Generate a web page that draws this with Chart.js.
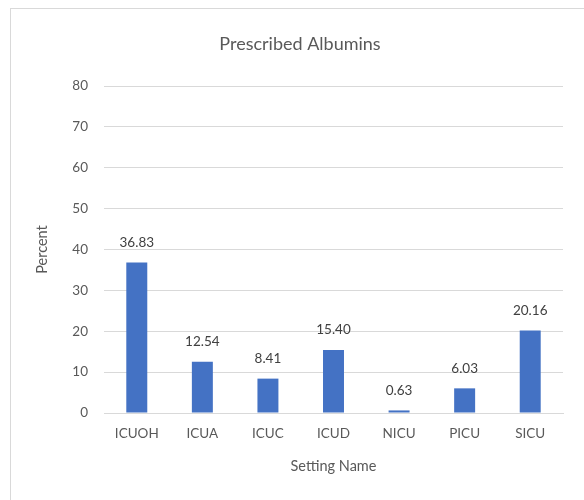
<!DOCTYPE html>
<html><head><meta charset="utf-8">
<script src="https://cdn.jsdelivr.net/npm/chart.js@4.4.1/dist/chart.umd.min.js"></script>
<style>
html,body{margin:0;padding:0;background:#fff;overflow:hidden;width:584px;height:500px;}
#frame{position:absolute;left:10px;top:8px;width:700px;height:700px;border:1px solid #d9d9d9;box-sizing:border-box;}
#wrap{position:absolute;left:0;top:0;width:584px;height:500px;}
</style></head>
<body>
<div id="frame"></div>
<div id="wrap"><canvas id="c" width="584" height="500"></canvas></div>
<script>
const categories = ["ICUOH","ICUA","ICUC","ICUD","NICU","PICU","SICU"];
const values = [36.83, 12.54, 8.41, 15.40, 0.63, 6.03, 20.16];
const yTicks = [0,10,20,30,40,50,60,70,80];
const chartTitle = "Prescribed Albumins";
const xTitle = "Setting Name";
const yTitle = "Percent";

const FONT = "Lato, 'Open Sans', sans-serif";
const labelPlugin = {
  id: 'valueLabels',
  afterDatasetsDraw(chart) {
    const ctx = chart.ctx;
    const meta = chart.getDatasetMeta(0);
    ctx.save();
    ctx.font = "13.5px " + FONT;
    ctx.fillStyle = "#404040";
    ctx.textAlign = "center";
    ctx.textBaseline = "middle";
    meta.data.forEach((el, i) => {
      ctx.fillText(values[i].toFixed(2), el.x, el.y - 20);
    });
    ctx.restore();
  }
};
const titlePlugin = {
  id: 'frameTitle',
  afterDraw(chart) {
    const ctx = chart.ctx;
    ctx.save();
    ctx.font = "18px " + FONT;
    ctx.fillStyle = "#595959";
    ctx.textAlign = "center";
    ctx.textBaseline = "middle";
    ctx.fillText(chartTitle, 300, 44);
    ctx.restore();
  }
};

new Chart(document.getElementById('c'), {
  type: 'bar',
  data: {
    labels: categories,
    datasets: [{
      data: values,
      backgroundColor: '#4472C4',
      barPercentage: 0.64,
      categoryPercentage: 0.5
    }]
  },
  options: {
    responsive: false,
    animation: false,
    devicePixelRatio: 1,
    layout: { padding: { left: 0, right: 21, top: 86, bottom: 0 } },
    plugins: {
      legend: { display: false },
      tooltip: { enabled: false },
      title: { display: false }
    },
    scales: {
      x: {
        grid: { display: false, drawTicks: false },
        border: { display: true, color: '#d9d9d9', width: 1 },
        ticks: { color: '#595959', font: { family: FONT, size: 13.5 }, padding: 13 },
        title: { display: true, text: xTitle, color: '#595959', font: { family: FONT, size: 14.5 }, padding: { top: 4, bottom: 25 } },
        afterFit(s) { s.height = 87; }
      },
      y: {
        min: 0, max: 80,
        afterBuildTicks(s) { s.ticks = yTicks.map(v => ({ value: v })); },
        grid: { color: '#d9d9d9', lineWidth: 1, drawTicks: false },
        border: { display: false },
        ticks: { color: '#595959', font: { family: FONT, size: 13.5 }, padding: 16 },
        title: { display: true, text: yTitle, color: '#595959', font: { family: FONT, size: 14.5 }, padding: { top: 34, bottom: 0 } },
        afterFit(s) { s.width = 104; }
      }
    }
  },
  plugins: [labelPlugin, titlePlugin]
});
</script>
</body></html>
